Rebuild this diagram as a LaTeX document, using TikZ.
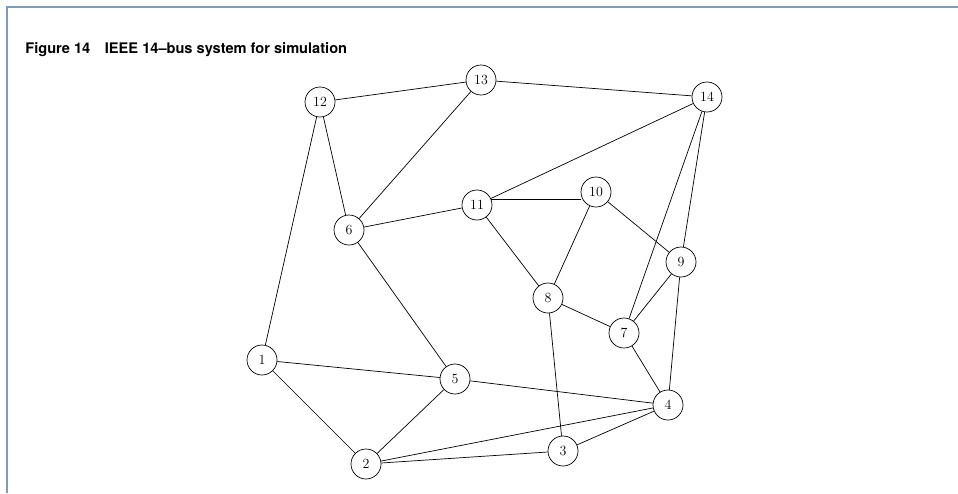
\documentclass[tikz,border=0pt]{standalone}
\usepackage{fontspec}
\usepackage{tikz}
\newfontfamily\headfont[Ligatures=TeX]{TeX Gyre Heros}
\definecolor{framegray}{HTML}{7F9BB5}

\begin{document}
\begin{tikzpicture}[x=1pt, y=-1pt, line width=0.7pt,
  bus/.style={draw, circle, minimum size=30pt, inner sep=0pt, fill=white,
    font=\fontsize{14}{16}\selectfont}]
  \useasboundingbox (0,0) rectangle (958,493);
  % frame
  \draw[framegray, line width=1.6pt] (7,493) -- (7,7) -- (958,7);
  \node[anchor=base west, inner sep=0pt, font=\headfont\bfseries\fontsize{14.6}{17}\selectfont]
    (caption) at (25,53) {Figure 14\hspace{1em}IEEE 14--bus system for simulation};

  % buses
  \foreach \n/\x/\y in {1/262/360, 2/366/464, 3/563/451, 4/668/405, 5/455/379,
      6/349/230, 7/624/333, 8/548/298, 9/681/262, 10/596/192, 11/477/205,
      12/320/102, 13/481/80, 14/707/97} {
    \node[bus] (b\n) at (\x,\y) {\n};
  }

  % lines
  \foreach \a/\b in {1/2, 1/5, 1/12, 2/5, 2/4, 2/3, 3/4, 3/8, 4/5, 4/7, 4/9,
      5/6, 6/12, 6/13, 6/11, 7/8, 7/9, 7/14, 8/11, 8/10, 9/10, 9/14,
      11/14, 12/13, 13/14} {
    \draw (b\a) -- (b\b);
  }
  \draw (b11.20) -- (b11.20 -| b10.west); % 11--10 runs level
\end{tikzpicture}
\end{document}
